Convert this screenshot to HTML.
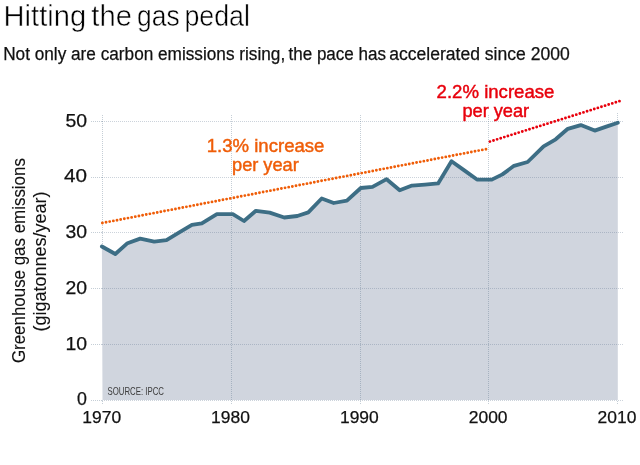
<!DOCTYPE html>
<html><head><meta charset="utf-8"><style>
html,body{margin:0;padding:0;background:#fff;}
body{width:640px;height:465px;overflow:hidden;}
svg{display:block;will-change:transform;font-family:"Liberation Sans",sans-serif;}
</style></head><body>
<svg width="640" height="465" viewBox="0 0 640 465">
<rect width="640" height="465" fill="#fff"/>
<g font-size="29.8" fill="#000" stroke="#fff" stroke-width="0.5">
<text x="3.6" y="25.6" textLength="82.5" lengthAdjust="spacingAndGlyphs">Hitting</text>
<text x="91.3" y="25.6" textLength="40.6" lengthAdjust="spacingAndGlyphs">the</text>
<text x="137.0" y="25.6" textLength="42.6" lengthAdjust="spacingAndGlyphs">gas</text>
<text x="184.4" y="25.6" textLength="65.6" lengthAdjust="spacingAndGlyphs">pedal</text>
</g>
<g font-size="18" fill="#111" stroke="#111" stroke-width="0.25">
<text x="3.2" y="59.7" textLength="282" lengthAdjust="spacingAndGlyphs">Not only are carbon emissions rising,</text>
<text x="288.5" y="59.7" textLength="97.5" lengthAdjust="spacingAndGlyphs">the pace has</text>
<text x="389.2" y="59.7" textLength="180.5" lengthAdjust="spacingAndGlyphs">accelerated since 2000</text>
</g>
<path d="M102.5,400 L101.90,246.50 L115.30,254.00 L127.50,243.20 L140.20,238.60 L154.20,241.60 L166.50,240.10 L179.30,232.40 L191.90,224.90 L201.80,223.40 L216.90,214.20 L232.80,214.10 L244.00,221.00 L255.90,210.80 L269.70,212.60 L284.20,217.50 L297.30,216.00 L308.30,212.40 L321.70,198.50 L333.70,203.00 L346.90,200.70 L360.80,188.00 L372.50,186.80 L386.60,179.20 L399.70,190.30 L412.00,185.60 L425.00,184.60 L438.10,183.40 L451.50,161.20 L464.30,170.40 L477.00,179.50 L491.80,179.60 L502.40,174.40 L514.00,165.80 L527.60,162.00 L543.60,146.30 L555.70,139.30 L567.80,128.80 L580.80,125.10 L594.70,130.60 L606.30,126.60 L617.80,122.70 L617.8,400 Z" fill="#d0d5de"/>
<g stroke="rgba(85,110,135,0.3)" stroke-width="1" stroke-dasharray="1 1" fill="none">
<line x1="102" y1="400.5" x2="623" y2="400.5"/><line x1="102" y1="344.5" x2="623" y2="344.5"/><line x1="102" y1="288.5" x2="623" y2="288.5"/><line x1="102" y1="232.5" x2="623" y2="232.5"/><line x1="102" y1="177.5" x2="623" y2="177.5"/><line x1="102" y1="121.5" x2="623" y2="121.5"/>
</g>
<g stroke="rgba(85,110,135,0.34)" stroke-width="1" stroke-dasharray="1 1" fill="none">
<line x1="91" y1="400.5" x2="102" y2="400.5"/><line x1="91" y1="344.5" x2="102" y2="344.5"/><line x1="91" y1="288.5" x2="102" y2="288.5"/><line x1="91" y1="232.5" x2="102" y2="232.5"/><line x1="91" y1="177.5" x2="102" y2="177.5"/><line x1="91" y1="121.5" x2="102" y2="121.5"/><line x1="102.5" y1="115" x2="102.5" y2="244"/><line x1="102.5" y1="401" x2="102.5" y2="405"/><line x1="231.5" y1="115" x2="231.5" y2="405"/><line x1="360.5" y1="115" x2="360.5" y2="405"/><line x1="488.5" y1="115" x2="488.5" y2="405"/><line x1="617.5" y1="113" x2="617.5" y2="120"/><line x1="617.5" y1="401" x2="617.5" y2="405"/>
</g>
<polyline points="101.90,246.50 115.30,254.00 127.50,243.20 140.20,238.60 154.20,241.60 166.50,240.10 179.30,232.40 191.90,224.90 201.80,223.40 216.90,214.20 232.80,214.10 244.00,221.00 255.90,210.80 269.70,212.60 284.20,217.50 297.30,216.00 308.30,212.40 321.70,198.50 333.70,203.00 346.90,200.70 360.80,188.00 372.50,186.80 386.60,179.20 399.70,190.30 412.00,185.60 425.00,184.60 438.10,183.40 451.50,161.20 464.30,170.40 477.00,179.50 491.80,179.60 502.40,174.40 514.00,165.80 527.60,162.00 543.60,146.30 555.70,139.30 567.80,128.80 580.80,125.10 594.70,130.60 606.30,126.60 617.80,122.70" fill="none" stroke="#3d6e85" stroke-width="3.8" stroke-linejoin="round" stroke-linecap="round"/>
<line x1="102.4" y1="223" x2="489.5" y2="148.5" stroke="#ef5d08" stroke-width="2.9" stroke-linecap="round" stroke-dasharray="0 3.72"/>
<line x1="489.9" y1="141.6" x2="620" y2="101" stroke="#e8000c" stroke-width="2.9" stroke-linecap="round" stroke-dasharray="0 3.77"/>
<g font-size="18.6" text-anchor="middle" stroke-width="0.45">
<text x="265.6" y="151.7" fill="#ef5d08" stroke="#ef5d08" textLength="117.6" lengthAdjust="spacingAndGlyphs">1.3% increase</text>
<text x="265.4" y="171" fill="#ef5d08" stroke="#ef5d08" textLength="66.8" lengthAdjust="spacingAndGlyphs">per year</text>
<text x="495.5" y="97.9" fill="#e8000c" stroke="#e8000c" textLength="117.8" lengthAdjust="spacingAndGlyphs">2.2% increase</text>
<text x="495.8" y="117.4" fill="#e8000c" stroke="#e8000c" textLength="66.8" lengthAdjust="spacingAndGlyphs">per year</text>
</g>
<text x="107.5" y="395" font-size="11.2" fill="#3c3c3c" textLength="56.5" lengthAdjust="spacingAndGlyphs">SOURCE: IPCC</text>
<g font-size="17.8" fill="#111" stroke="#111" stroke-width="0.25">
<text x="87" y="405.30" text-anchor="end">0</text><text x="87" y="349.58" text-anchor="end" textLength="21.6" lengthAdjust="spacingAndGlyphs">10</text><text x="87" y="293.86" text-anchor="end" textLength="21.6" lengthAdjust="spacingAndGlyphs">20</text><text x="87" y="238.14" text-anchor="end" textLength="21.6" lengthAdjust="spacingAndGlyphs">30</text><text x="87" y="182.42" text-anchor="end" textLength="23" lengthAdjust="spacingAndGlyphs">40</text><text x="87" y="126.70" text-anchor="end" textLength="21.6" lengthAdjust="spacingAndGlyphs">50</text>
<text x="101.70" y="423" font-size="17.4" text-anchor="middle" textLength="38.8" lengthAdjust="spacingAndGlyphs">1970</text><text x="230.52" y="423" font-size="17.4" text-anchor="middle" textLength="38.8" lengthAdjust="spacingAndGlyphs">1980</text><text x="359.35" y="423" font-size="17.4" text-anchor="middle" textLength="38.8" lengthAdjust="spacingAndGlyphs">1990</text><text x="488.17" y="423" font-size="17.4" text-anchor="middle" textLength="38.8" lengthAdjust="spacingAndGlyphs">2000</text><text x="617.00" y="423" font-size="17.4" text-anchor="middle" textLength="38.8" lengthAdjust="spacingAndGlyphs">2010</text>
</g>
<g font-size="18.6" fill="#111" stroke="#111" stroke-width="0.1" text-anchor="middle">
<text transform="translate(24.7,260.6) rotate(-90)" textLength="205" lengthAdjust="spacingAndGlyphs">Greenhouse gas emissions</text>
<text transform="translate(45.6,261.4) rotate(-90)" textLength="140" lengthAdjust="spacingAndGlyphs">(gigatonnes/year)</text>
</g>
</svg>
</body></html>
